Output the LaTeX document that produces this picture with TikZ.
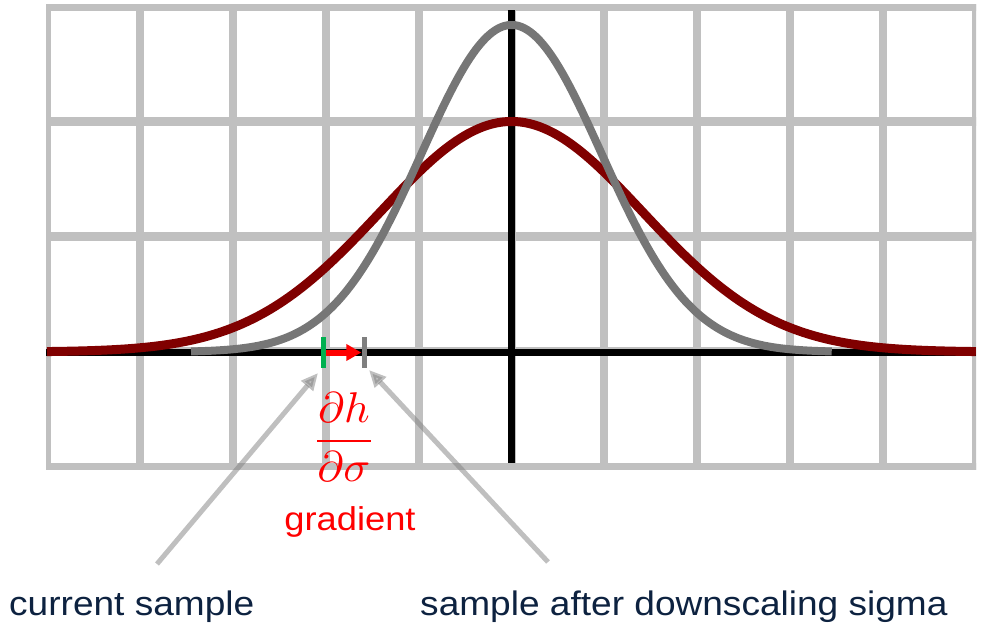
\documentclass[tikz,border=0pt]{standalone}
\usepackage{fontspec}
\newfontfamily\arial{Liberation Sans}
\usetikzlibrary{arrows.meta}
\definecolor{gridgray}{RGB}{192,192,192}
\definecolor{darkred}{RGB}{128,0,0}
\definecolor{samplegray}{RGB}{118,118,118}
\definecolor{navy}{RGB}{13,34,64}
\definecolor{markgreen}{RGB}{0,176,80}
\definecolor{tickgray}{RGB}{127,127,127}
\begin{document}
\begin{tikzpicture}[x=1pt,y=-1pt,
  gridv/.style={gridgray,line width=8pt},
  gridh/.style={gridgray,line width=9pt},
  axisline/.style={black,line width=7pt},
  redcurve/.style={darkred,line width=9pt,line join=round},
  graycurve/.style={samplegray,line width=8pt,line join=round},
  tickmark/.style={inner sep=0pt,minimum width=5pt,minimum height=31pt},
  gradarrow/.style={red,line width=6pt,-{Triangle[length=15pt,width=16pt]}},
  pointer/.style={gray,opacity=0.5,line width=5pt,-{Triangle[length=17pt,width=15pt]}},
  lab/.style={navy,font=\arial\fontsize{34}{40}\selectfont,xscale=1.09,inner sep=0pt},
  redlab/.style={red,font=\arial\fontsize{33}{40}\selectfont,xscale=1.1,inner sep=0pt},
  fraclab/.style={red,font=\fontsize{10}{12}\selectfont,xscale=4.45,yscale=4.3,inner sep=0pt}
]
\useasboundingbox (0,0) rectangle (981,627);
% grid
\begin{scope}
  \clip (46,4) rectangle (976,469);
  \foreach \i in {0,...,10} \draw[gridv] ({47+92.9*\i},0) -- ({47+92.9*\i},475);
  \foreach \j in {0,...,4} \draw[gridh] (40,{6+115.25*\j}) -- (980,{6+115.25*\j});
\end{scope}
% axes
\coordinate (xl) at (46,352);
\coordinate (xr) at (976,352);
\coordinate (yt) at (511.5,10);
\coordinate (yb) at (511.5,463);
\draw[axisline] (xl) -- (xr);
\draw[axisline] (yt) -- (yb);
% curves
\draw[redcurve] plot[domain=-5:5,samples=201] ({511.5+92.9*\x},{352-230.5*exp(-\x*\x/4)});
\draw[graycurve] plot[domain=-3.45:3.45,samples=201] ({511.5+92.9*\x},{352-327*exp(-\x*\x/1.88)});
% samples and gradient
\node[tickmark,fill=markgreen] (cur) at (323,352.5) {};
\node[tickmark,fill=tickgray] (new) at (364,352.5) {};
\draw[gradarrow] (cur.east) -- (new.west);
% labels
\node[fraclab,anchor=base] (frac) at (344,452) {$\displaystyle\frac{\partial h}{\partial \sigma}$};
\node[redlab,anchor=base] (grad) at (350,530) {gradient};
\node[lab,anchor=base west] (curtext) at (9,615) {current sample};
\node[lab,anchor=base west] (newtext) at (420,615) {sample after downscaling sigma};
% pointers
\coordinate (curfoot) at (157,564);
\coordinate (curtip) at (318,373);
\coordinate (newfoot) at (548,562);
\coordinate (newtip) at (369,370);
\draw[pointer] (curfoot) -- (curtip);
\draw[pointer] (newfoot) -- (newtip);
\end{tikzpicture}
\end{document}
